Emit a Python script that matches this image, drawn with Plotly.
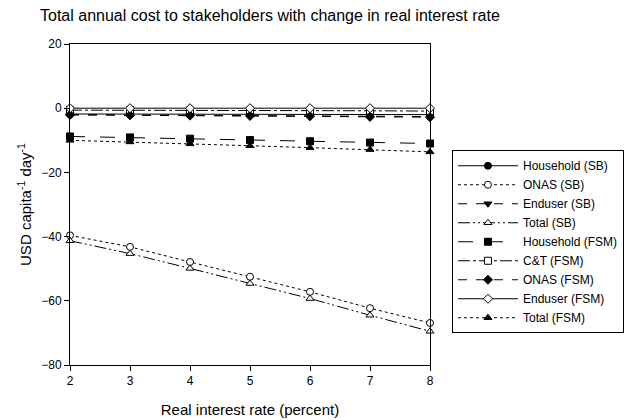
import plotly.graph_objects as go

rate = [2, 3, 4, 5, 6, 7, 8]

household_sb = [-1.8, -1.8, -1.9, -1.9, -1.9, -2.0, -2.0]
onas_sb = [-39.6, -43.2, -47.9, -52.5, -57.2, -62.3, -66.9]
enduser_sb = [-2.0, -2.1, -2.2, -2.3, -2.4, -2.5, -2.6]
total_sb = [-41.3, -45.3, -49.9, -54.6, -59.3, -64.5, -69.5]
household_fsm = [-8.8, -9.1, -9.5, -9.9, -10.3, -10.7, -11.0]
ct_fsm = [-0.6, -0.6, -0.7, -0.7, -0.8, -0.8, -0.9]
onas_fsm = [-2.1, -2.2, -2.3, -2.4, -2.5, -2.7, -2.8]
enduser_fsm = [0.0, 0.0, 0.0, 0.0, 0.0, 0.0, 0.0]
total_fsm = [-10.0, -10.5, -11.1, -11.7, -12.3, -12.9, -13.6]

series = [
    ("Household (SB)", household_sb, "solid", "circle", "black"),
    ("ONAS (SB)", onas_sb, "dot", "circle", "white"),
    ("Enduser (SB)", enduser_sb, "dash", "triangle-down", "black"),
    ("Total (SB)", total_sb, "12px,3px,2px,3px,2px,3px", "triangle-up", "white"),
    ("Household (FSM)", household_fsm, "longdash", "square", "black"),
    ("C&T (FSM)", ct_fsm, "12px,3px,3px,3px", "square", "white"),
    ("ONAS (FSM)", onas_fsm, "dash", "diamond", "black"),
    ("Enduser (FSM)", enduser_fsm, "solid", "diamond", "white"),
    ("Total (FSM)", total_fsm, "dot", "triangle-up", "black"),
]

fig = go.Figure()
for name, vals, dash, sym, fill in series:
    fig.add_trace(go.Scatter(
        x=rate, y=vals, name=name, mode="lines+markers",
        line=dict(color="black", width=1, dash=dash),
        marker=dict(symbol=sym, size=7, color=fill,
                    line=dict(color="black", width=1)),
        cliponaxis=False,
    ))

fig.update_layout(
    width=640, height=420,
    paper_bgcolor="white", plot_bgcolor="white",
    margin=dict(l=62, r=218, t=36, b=63),
    font=dict(family="Liberation Sans, Arial", size=12, color="black"),
    title=dict(text="Total annual cost to stakeholders with change in real interest rate",
               x=32/640, xanchor="left", y=1-7/420, yanchor="middle",
               font=dict(size=16)),
    showlegend=True,
    legend=dict(x=1.061, y=0.669, xanchor="left", yanchor="top",
                bordercolor="black", borderwidth=1, bgcolor="white",
                font=dict(size=12), tracegroupgap=0, itemwidth=60),
    xaxis=dict(range=[2, 8], tickvals=rate, showline=True, mirror=True,
               linecolor="black", linewidth=1, ticks="outside", ticklen=5,
               tickcolor="black", showgrid=False, zeroline=False,
               tickfont=dict(size=12), automargin=False,
               title=dict(text="Real interest rate (percent)", font=dict(size=15), standoff=17)),
    yaxis=dict(range=[-80, 20], tickvals=[-80, -60, -40, -20, 0, 20],
               showline=True, mirror=True, linecolor="black", linewidth=1,
               ticks="outside", ticklen=5, tickcolor="black",
               showgrid=False, zeroline=False, tickfont=dict(size=12),
               automargin=False,
               title=dict(text="USD capita<sup>-1</sup> day<sup>-1</sup>",
                          font=dict(size=15), standoff=5)),
)

fig.write_html("out.html")
